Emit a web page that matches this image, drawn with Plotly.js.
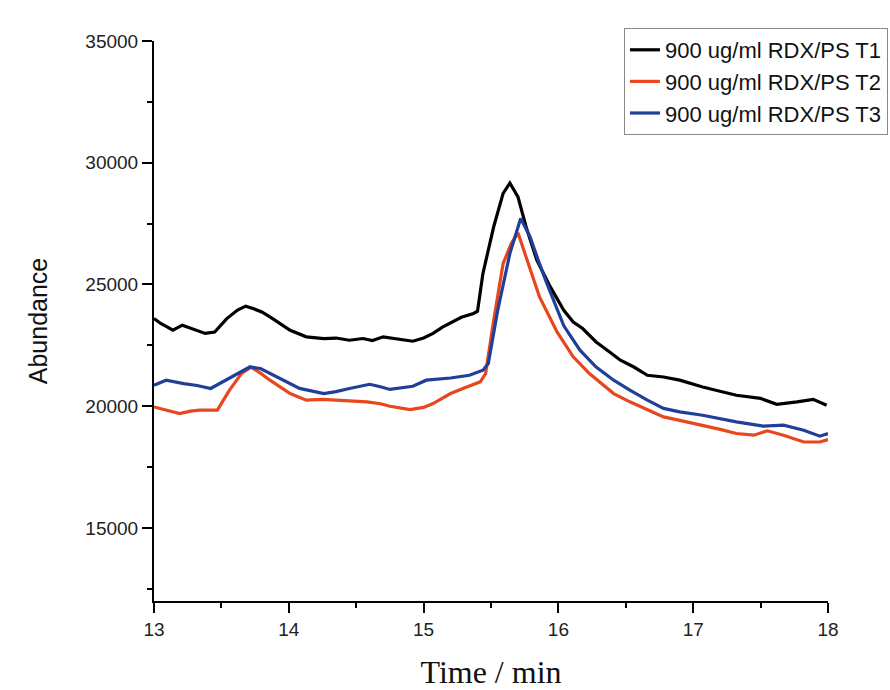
<!DOCTYPE html>
<html>
<head>
<meta charset="utf-8">
<script src="https://cdn.plot.ly/plotly-3.0.1.min.js"></script>
<style>html,body{margin:0;padding:0;background:#fff;}#chart{width:890px;height:690px;}</style>
</head>
<body>
<div id="chart"></div>
<script>
// Series names
const seriesNames = ["900 ug/ml RDX/PS T1", "900 ug/ml RDX/PS T2", "900 ug/ml RDX/PS T3"];

// T1 (black)
const t1Time = [13.00,13.05,13.10,13.14,13.21,13.30,13.38,13.45,13.54,13.62,13.68,13.74,13.80,13.88,13.95,14.01,14.13,14.26,14.35,14.45,14.55,14.62,14.70,14.80,14.92,15.00,15.07,15.14,15.20,15.28,15.37,15.40,15.44,15.52,15.59,15.64,15.70,15.76,15.84,15.94,16.04,16.11,16.18,16.28,16.38,16.46,16.56,16.66,16.78,16.90,17.07,17.20,17.32,17.50,17.62,17.77,17.89,17.99];
const t1Abund = [23600,23400,23250,23120,23330,23150,22990,23050,23600,23950,24110,24000,23870,23600,23350,23120,22850,22780,22800,22710,22780,22700,22850,22780,22670,22800,22990,23250,23420,23650,23810,23900,25450,27370,28740,29170,28600,27370,26000,24900,23940,23460,23190,22640,22230,21890,21610,21270,21200,21070,20790,20600,20450,20320,20080,20180,20280,20040];

// T2 (red)
const t2Time = [13.00,13.08,13.19,13.27,13.34,13.47,13.56,13.65,13.72,13.78,13.86,14.01,14.13,14.25,14.33,14.45,14.58,14.68,14.75,14.90,15.00,15.07,15.20,15.32,15.42,15.46,15.52,15.59,15.65,15.70,15.76,15.86,15.99,16.11,16.23,16.41,16.53,16.66,16.78,16.90,17.07,17.20,17.32,17.45,17.55,17.67,17.82,17.94,18.00];
const t2Abund = [19970,19850,19700,19800,19840,19840,20660,21350,21600,21400,21070,20520,20250,20280,20250,20200,20180,20100,20000,19860,19950,20110,20520,20790,21000,21340,23530,25860,26680,27120,26130,24490,23050,22030,21340,20520,20180,19840,19560,19420,19220,19050,18880,18810,18990,18810,18530,18530,18630];

// T3 (blue)
const t3Time = [13.00,13.09,13.22,13.32,13.42,13.51,13.60,13.71,13.79,13.91,14.08,14.26,14.35,14.45,14.60,14.68,14.75,14.92,15.02,15.20,15.34,15.44,15.48,15.55,15.64,15.72,15.79,15.85,15.91,16.04,16.16,16.28,16.41,16.53,16.66,16.78,16.90,17.07,17.32,17.52,17.67,17.82,17.94,18.00];
const t3Abund = [20860,21070,20930,20850,20730,21000,21300,21610,21550,21200,20730,20520,20600,20730,20900,20800,20690,20820,21070,21160,21270,21480,21750,23940,26270,27710,26960,26000,25100,23300,22300,21610,21070,20660,20250,19910,19770,19630,19360,19180,19220,19010,18770,18880];

// Axis ticks
const xTicks = [13,14,15,16,17,18];
const yTicks = [15000,20000,25000,30000,35000];

const colors = ["#000000", "#E8461E", "#1F3F99"];
const xs = [t1Time, t2Time, t3Time];
const ys = [t1Abund, t2Abund, t3Abund];

const traces = seriesNames.map((n, i) => ({
  x: xs[i], y: ys[i], name: n, type: "scatter", mode: "lines",
  line: {color: colors[i], width: 3.2}
}));

const font = "Liberation Sans, Arial, sans-serif";
const W = 890, H = 690, ML = 154, MR = 0, MT = 20, MB = 89;
const pw = W - ML - MR, ph = H - MT - MB;
const layout = {
  width: W, height: H,
  paper_bgcolor: "#ffffff", plot_bgcolor: "#ffffff",
  margin: {l: ML, r: MR, t: MT, b: MB},
  showlegend: true,
  legend: {
    x: (888 - ML) / pw, xanchor: "right", y: 1 - (28 - MT) / ph, yanchor: "top",
    bgcolor: "#ffffff", bordercolor: "#888888", borderwidth: 1,
    font: {family: font, size: 22, color: "#111"},
    tracegroupgap: 0
  },
  xaxis: {
    domain: [0, (828 - ML) / pw],
    range: [13, 18], tickvals: xTicks, ticktext: xTicks.map(String),
    showgrid: false, zeroline: false,
    showline: true, linecolor: "#000", linewidth: 2,
    ticks: "outside", ticklen: 10, tickwidth: 2, tickcolor: "#000",
    minor: {dtick: 0.5, ticks: "outside", ticklen: 5, tickwidth: 2, tickcolor: "#000", showgrid: false},
    tickfont: {family: font, size: 19, color: "#222"},
    title: {text: "Time / min", font: {family: "Liberation Serif, Times New Roman, serif", size: 32, color: "#111"}, standoff: 25}
  },
  yaxis: {
    domain: [0, 1 - (41 - MT) / ph],
    range: [12000, 35000], tickvals: yTicks, ticktext: yTicks.map(String),
    showgrid: false, zeroline: false,
    showline: true, linecolor: "#000", linewidth: 2,
    ticks: "outside", ticklen: 10, tickwidth: 2, tickcolor: "#000",
    minor: {dtick: 2500, ticks: "outside", ticklen: 5, tickwidth: 2, tickcolor: "#000", showgrid: false},
    tickfont: {family: font, size: 19, color: "#222"},
    title: {text: "Abundance", font: {family: font, size: 25, color: "#111"}, standoff: 31}
  }
};

Plotly.newPlot("chart", traces, layout, {displayModeBar: false, staticPlot: true});
</script>
</body>
</html>
